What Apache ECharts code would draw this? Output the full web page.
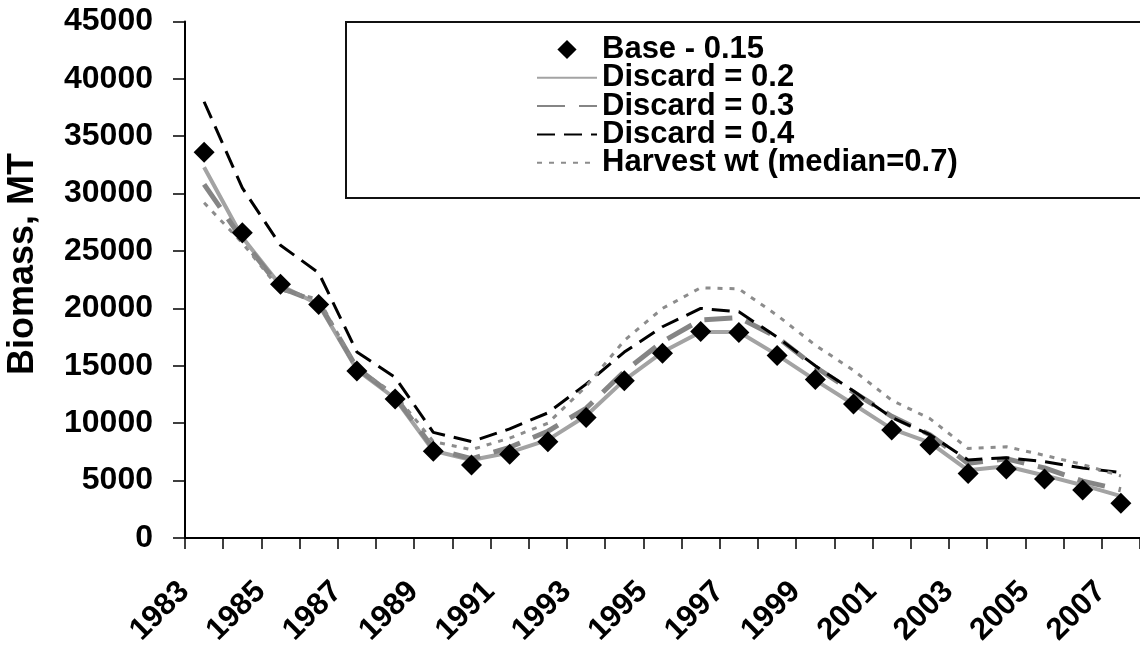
<!DOCTYPE html>
<html>
<head>
<meta charset="utf-8">
<script src="https://cdn.jsdelivr.net/npm/echarts@6/dist/echarts.min.js"></script>
<style>
html,body{margin:0;padding:0;background:#fff;}
#chart{width:1140px;height:649px;}
</style>
</head>
<body>
<div id="chart"></div>
<script>
const years = ['1983','1984','1985','1986','1987','1988','1989','1990','1991','1992','1993','1994','1995','1996','1997','1998','1999','2000','2001','2002','2003','2004','2005','2006','2007'];
const yTicks = [0,5000,10000,15000,20000,25000,30000,35000,40000,45000];
const base     = [33600,26600,22100,20350,14550,12100,7550,6350,7300,8380,10500,13700,16100,17980,17900,15900,13800,11680,9400,8100,5620,6000,5130,4180,3020];
const discard02 = [32300,26200,22000,20350,14650,12150,7600,6800,7450,8550,10650,13750,16200,17950,17950,15950,13750,11650,9500,8300,5900,6250,5450,4600,3650];
const discard03 = [30800,26000,21800,20500,14800,12300,7800,6900,7900,9300,11300,14500,17100,19000,19200,17500,14900,12700,10600,9000,6500,6900,6100,4950,4200];
const discard04 = [38000,30500,25500,23100,16200,14000,9200,8400,9500,10900,13400,16200,18400,20000,19700,17500,15000,12800,10500,9000,6800,7000,6650,6100,5700];
const harvest  = [29200,25700,21600,20800,14800,12500,8400,7700,8700,10000,13200,17200,20000,21800,21700,19400,16800,14600,12000,10400,7800,7950,7200,6400,5400];
const names = ['Base - 0.15','Discard = 0.2','Discard = 0.3','Discard = 0.4','Harvest wt (median=0.7)'];

const FONT = '"Liberation Sans", Arial, Helvetica, sans-serif';
const chart = echarts.init(document.getElementById('chart'), null, {renderer:'canvas'});
chart.setOption({
  animation:false,
  backgroundColor:'#fff',
  grid:{left:185, right:-9, top:21.4, bottom:111, containLabel:false},
  xAxis:{
    type:'category', data:years, boundaryGap:true,
    axisLine:{show:true, lineStyle:{color:'#000', width:2}},
    axisTick:{show:true, interval:0, length:11, lineStyle:{color:'#000', width:1.5}},
    axisLabel:{interval:1, rotate:45, margin:29, padding:[0,28,0,0],
      fontFamily:FONT, fontWeight:'bold', fontSize:31, color:'#000'},
    splitLine:{show:false}
  },
  yAxis:{
    type:'value', min:yTicks[0], max:yTicks[yTicks.length-1], interval:yTicks[1]-yTicks[0],
    axisLine:{show:true, lineStyle:{color:'#000', width:2}},
    axisTick:{show:true, length:12, lineStyle:{color:'#000', width:1.5}},
    axisLabel:{margin:32, fontFamily:FONT, fontWeight:'bold', fontSize:32, color:'#000',
      formatter:function(v){return String(v);}},
    splitLine:{show:false}
  },
  graphic:[
    {type:'rect', shape:{x:346, y:22, width:820, height:176}, z:1,
     style:{fill:'#fff', stroke:'#111', lineWidth:2}},
    {type:'text', x:23, y:264, rotation:Math.PI/2, z:10,
     style:{text:'Biomass, MT', fontFamily:FONT, fontWeight:'bold', fontSize:36,
            fill:'#000', textAlign:'center', textVerticalAlign:'middle'}}
  ],
  legend:{
    orient:'vertical', left:531, top:29, itemWidth:60, itemHeight:24, itemGap:-2.7, z:20,
    selectedMode:false,
    textStyle:{fontFamily:FONT, fontWeight:'bold', fontSize:31, lineHeight:29, color:'#000'},
    data:[
      {name:names[0]},
      {name:names[1], itemStyle:{opacity:0}},
      {name:names[2], itemStyle:{opacity:0}},
      {name:names[3], itemStyle:{opacity:0}},
      {name:names[4], itemStyle:{opacity:0}}
    ]
  },
  series:[
    {name:names[1], type:'line', data:discard02, symbol:'none', z:2,
     lineStyle:{color:'#a3a3a3', width:4, type:'solid'}, itemStyle:{color:'#a3a3a3'}},
    {name:names[2], type:'line', data:discard03, symbol:'none', z:3,
     lineStyle:{color:'#858585', width:5, type:[28,14]}, itemStyle:{color:'#858585'}},
    {name:names[3], type:'line', data:discard04, symbol:'none', z:4,
     lineStyle:{color:'#000', width:3, type:[18,9]}, itemStyle:{color:'#000'}},
    {name:names[4], type:'line', data:harvest, symbol:'none', z:4,
     lineStyle:{color:'#8c8c8c', width:3, type:[5,7]}, itemStyle:{color:'#8c8c8c'}},
    {name:names[0], type:'line', data:base, symbol:'diamond', symbolSize:21, showSymbol:true, z:6,
     lineStyle:{opacity:0, width:0}, itemStyle:{color:'#000'}}
  ]
});
</script>
</body>
</html>
